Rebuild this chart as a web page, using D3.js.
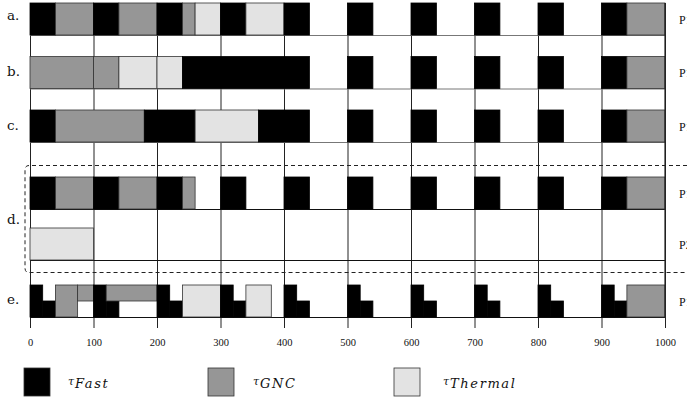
<!DOCTYPE html>
<html><head><meta charset="utf-8">
<script src="https://cdn.jsdelivr.net/npm/d3@7"></script>
<style>body{margin:0;background:#fff}svg{display:block}</style>
</head><body><svg id="c" width="687" height="401"></svg>
<script>
// ---- data ----
const taskTypes = ["Fast", "GNC", "Thermal"];
const taskColors = ["#000000", "#969696", "#e3e3e3"];
const tickValues = [0, 100, 200, 300, 400, 500, 600, 700, 800, 900, 1000];
const rowLabels = ["a.", "b.", "c.", "d.", "e."];
const procLabels = ["P1", "P1", "P1", "P1", "P2", "P1"];

const rowA = [[0,40,"Fast"],[40,100,"GNC"],[100,140,"Fast"],[140,200,"GNC"],[200,240,"Fast"],[240,260,"GNC"],[260,300,"Thermal"],[300,340,"Fast"],[340,400,"Thermal"],[400,440,"Fast"],[500,540,"Fast"],[600,640,"Fast"],[700,740,"Fast"],[800,840,"Fast"],[900,940,"Fast"],[940,1000,"GNC"]];
const rowB = [[0,100,"GNC"],[100,140,"GNC"],[140,200,"Thermal"],[200,240,"Thermal"],[240,440,"Fast"],[500,540,"Fast"],[600,640,"Fast"],[700,740,"Fast"],[800,840,"Fast"],[900,940,"Fast"],[940,1000,"GNC"]];
const rowC = [[0,40,"Fast"],[40,180,"GNC"],[180,260,"Fast"],[260,360,"Thermal"],[360,440,"Fast"],[500,540,"Fast"],[600,640,"Fast"],[700,740,"Fast"],[800,840,"Fast"],[900,940,"Fast"],[940,1000,"GNC"]];
const rowD1 = [[0,40,"Fast"],[40,100,"GNC"],[100,140,"Fast"],[140,200,"GNC"],[200,240,"Fast"],[240,260,"GNC"],[300,340,"Fast"],[400,440,"Fast"],[500,540,"Fast"],[600,640,"Fast"],[700,740,"Fast"],[800,840,"Fast"],[900,940,"Fast"],[940,1000,"GNC"]];
const rowD2 = [[0,100,"Thermal"]];
const rowE = [[0,20,"Fast","full"],[20,40,"Fast","bottom"],[40,75,"GNC","full"],[75,100,"GNC","top"],
  [100,120,"Fast","full"],[120,140,"Fast","bottom"],[120,200,"GNC","top"],
  [200,220,"Fast","full"],[220,240,"Fast","bottom"],[240,300,"Thermal","full"],
  [300,320,"Fast","full"],[320,340,"Fast","bottom"],[340,380,"Thermal","full"],
  [400,420,"Fast","full"],[420,440,"Fast","bottom"],
  [500,520,"Fast","full"],[520,540,"Fast","bottom"],
  [600,620,"Fast","full"],[620,640,"Fast","bottom"],
  [700,720,"Fast","full"],[720,740,"Fast","bottom"],
  [800,820,"Fast","full"],[820,840,"Fast","bottom"],
  [900,920,"Fast","full"],[920,940,"Fast","bottom"],[940,1000,"GNC","full"]];

// ---- layout ----
const svg = d3.select("#c");
const x = d3.scaleLinear().domain([0, 1000]).range([30, 665]);
const color = d3.scaleOrdinal().domain(taskTypes).range(taskColors);
const rowH = 32;
const rows = [
  {data: rowA, y: 3, line: "#777"},
  {data: rowB, y: 56.5, line: "#777"},
  {data: rowC, y: 110, line: "#777"},
  {data: rowD1, y: 177, line: "#111"},
  {data: rowD2, y: 228, line: "#111"},
  {data: rowE, y: 285, line: "#111"}
];

// vertical grid / ticks
const axis = d3.axisBottom(x).tickValues(tickValues).tickSize(325).tickPadding(9).tickFormat(d3.format("d"));
const ax = svg.append("g").attr("transform", "translate(0,3)").call(axis);
ax.select(".domain").remove();
ax.selectAll(".tick line").attr("stroke", "#222").attr("stroke-width", 1);
ax.selectAll(".tick text").attr("font-family", "Liberation Serif, Times New Roman, serif")
  .attr("font-size", 10.5).attr("fill", "#111").attr("dy", "0.9em");

// row bottom lines
rows.forEach(r => {
  svg.append("line").attr("x1", x(0)).attr("x2", x(1000))
    .attr("y1", r.y + rowH + 0.5).attr("y2", r.y + rowH + 0.5)
    .attr("stroke", r.line).attr("stroke-width", 1);
});

// bars
rows.forEach((r, i) => {
  const g = svg.append("g");
  g.selectAll("rect").data(r.data).enter().append("rect")
    .attr("x", d => x(d[0]))
    .attr("width", d => x(d[1]) - x(d[0]))
    .attr("y", d => d[3] === "bottom" ? r.y + rowH / 2 : r.y)
    .attr("height", d => (d[3] === "top" || d[3] === "bottom") ? rowH / 2 : rowH)
    .attr("fill", d => color(d[2]))
    .attr("stroke", d => d[2] === "Fast" ? "#000" : "#333")
    .attr("stroke-width", 0.8);
});

// right edge line
svg.append("line").attr("x1", x(1000)).attr("x2", x(1000)).attr("y1", 3).attr("y2", 318)
  .attr("stroke", "#222").attr("stroke-width", 1.2);

// processor labels (cut by the window edge, as in the reference)
rows.forEach((r, i) => {
  svg.append("text").attr("x", 679).attr("y", r.y + rowH / 2 + 4.5)
    .attr("font-family", "Liberation Serif, Times New Roman, serif").attr("font-size", 12)
    .attr("fill", "#111").text(procLabels[i]);
});

// row labels
const labelY = [20, 76, 130, 224, 304];
rowLabels.forEach((t, i) => {
  svg.append("text").attr("x", 7).attr("y", labelY[i])
    .attr("font-family", "DejaVu Serif, serif").attr("font-size", 13.5)
    .attr("fill", "#111").text(t);
});

// dashed bracket around d
const bracket = d3.path();
bracket.moveTo(687, 165.5);
bracket.lineTo(29, 165.5);
bracket.quadraticCurveTo(25, 165.5, 25, 170);
bracket.lineTo(25, 268);
bracket.quadraticCurveTo(25, 272.5, 29, 272.5);
bracket.lineTo(687, 272.5);
svg.append("path").attr("d", bracket.toString()).attr("fill", "none")
  .attr("stroke", "#222").attr("stroke-width", 1).attr("stroke-dasharray", "4,3");

// legend
const legendX = [24, 208, 394];
const legendTextX = [68, 253, 443];
taskTypes.forEach((t, i) => {
  svg.append("rect").attr("x", legendX[i]).attr("y", 368).attr("width", 26).attr("height", 28)
    .attr("fill", color(t)).attr("stroke", "#333").attr("stroke-width", 0.8);
  const tx = svg.append("text").attr("x", legendTextX[i]).attr("y", 388)
    .attr("font-family", "DejaVu Serif, serif").attr("fill", "#111");
  tx.append("tspan").attr("font-size", 11).attr("font-style", "italic").attr("dy", -3).text("τ");
  tx.append("tspan").attr("font-size", 13).attr("font-style", "italic").attr("dy", 3)
    .attr("dx", 1).attr("letter-spacing", 1.6).text(t);
});
</script></body></html>
